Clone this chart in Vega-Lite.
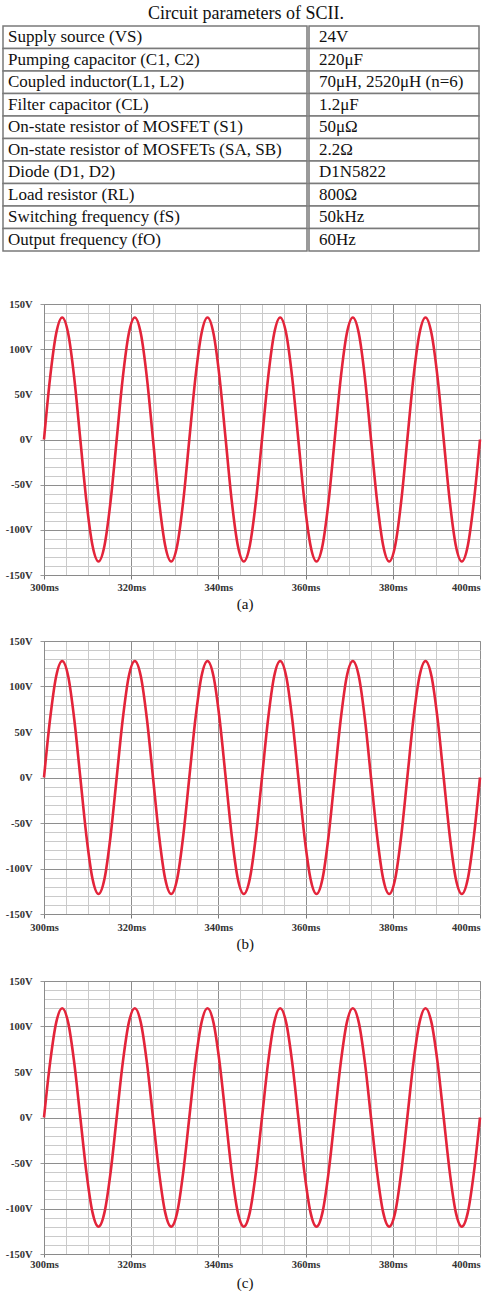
{
  "$schema": "https://vega.github.io/schema/vega-lite/v6.json",
  "padding": {"left": 2, "top": 5, "right": 0, "bottom": 0},
  "background": "white",
  "config": {
    "view": {"stroke": null},
    "font": "Liberation Serif",
    "axis": {"labelFont": "Liberation Serif", "labelFontWeight": "bold", "labelFontSize": 10.5, "labelColor": "#333333", "domainColor": "#8a8a8a", "gridWidth": 1}
  },
  "datasets": {
    "tbl": [
      {"r": 1, "p": "Supply source (VS)", "v": "24V"},
      {"r": 2, "p": "Pumping capacitor (C1, C2)", "v": "220μF"},
      {"r": 3, "p": "Coupled inductor(L1, L2)", "v": "70μH, 2520μH (n=6)"},
      {"r": 4, "p": "Filter capacitor (CL)", "v": "1.2μF"},
      {"r": 5, "p": "On-state resistor of MOSFET (S1)", "v": "50μΩ"},
      {"r": 6, "p": "On-state resistor of MOSFETs (SA, SB)", "v": "2.2Ω"},
      {"r": 7, "p": "Diode (D1, D2)", "v": "D1N5822"},
      {"r": 8, "p": "Load resistor (RL)", "v": "800Ω"},
      {"r": 9, "p": "Switching frequency (fS)", "v": "50kHz"},
      {"r": 10, "p": "Output frequency (fO)", "v": "60Hz"}
    ],
    "wave": [
      {"t": 300, "a": 0, "b": 0, "c": 0},
      {"t": 301.39, "a": 68, "b": 64, "c": 60},
      {"t": 302.78, "a": 117, "b": 111, "c": 104},
      {"t": 304.17, "a": 135, "b": 128, "c": 120},
      {"t": 305.56, "a": 117, "b": 111, "c": 104},
      {"t": 306.94, "a": 68, "b": 64, "c": 60},
      {"t": 308.33, "a": 0, "b": 0, "c": 0},
      {"t": 309.72, "a": -68, "b": -64, "c": -60},
      {"t": 311.11, "a": -117, "b": -111, "c": -104},
      {"t": 312.5, "a": -135, "b": -128, "c": -120},
      {"t": 313.89, "a": -117, "b": -111, "c": -104},
      {"t": 315.28, "a": -68, "b": -64, "c": -60},
      {"t": 316.67, "a": 0, "b": 0, "c": 0},
      {"t": 318.06, "a": 68, "b": 64, "c": 60},
      {"t": 319.44, "a": 117, "b": 111, "c": 104},
      {"t": 320.83, "a": 135, "b": 128, "c": 120},
      {"t": 322.22, "a": 117, "b": 111, "c": 104},
      {"t": 323.61, "a": 68, "b": 64, "c": 60},
      {"t": 325, "a": 0, "b": 0, "c": 0},
      {"t": 326.39, "a": -68, "b": -64, "c": -60},
      {"t": 327.78, "a": -117, "b": -111, "c": -104},
      {"t": 329.17, "a": -135, "b": -128, "c": -120},
      {"t": 330.56, "a": -117, "b": -111, "c": -104},
      {"t": 331.94, "a": -68, "b": -64, "c": -60},
      {"t": 333.33, "a": 0, "b": 0, "c": 0},
      {"t": 334.72, "a": 68, "b": 64, "c": 60},
      {"t": 336.11, "a": 117, "b": 111, "c": 104},
      {"t": 337.5, "a": 135, "b": 128, "c": 120},
      {"t": 338.89, "a": 117, "b": 111, "c": 104},
      {"t": 340.28, "a": 68, "b": 64, "c": 60},
      {"t": 341.67, "a": 0, "b": 0, "c": 0},
      {"t": 343.06, "a": -68, "b": -64, "c": -60},
      {"t": 344.44, "a": -117, "b": -111, "c": -104},
      {"t": 345.83, "a": -135, "b": -128, "c": -120},
      {"t": 347.22, "a": -117, "b": -111, "c": -104},
      {"t": 348.61, "a": -68, "b": -64, "c": -60},
      {"t": 350, "a": 0, "b": 0, "c": 0},
      {"t": 351.39, "a": 68, "b": 64, "c": 60},
      {"t": 352.78, "a": 117, "b": 111, "c": 104},
      {"t": 354.17, "a": 135, "b": 128, "c": 120},
      {"t": 355.56, "a": 117, "b": 111, "c": 104},
      {"t": 356.94, "a": 68, "b": 64, "c": 60},
      {"t": 358.33, "a": 0, "b": 0, "c": 0},
      {"t": 359.72, "a": -68, "b": -64, "c": -60},
      {"t": 361.11, "a": -117, "b": -111, "c": -104},
      {"t": 362.5, "a": -135, "b": -128, "c": -120},
      {"t": 363.89, "a": -117, "b": -111, "c": -104},
      {"t": 365.28, "a": -68, "b": -64, "c": -60},
      {"t": 366.67, "a": 0, "b": 0, "c": 0},
      {"t": 368.06, "a": 68, "b": 64, "c": 60},
      {"t": 369.44, "a": 117, "b": 111, "c": 104},
      {"t": 370.83, "a": 135, "b": 128, "c": 120},
      {"t": 372.22, "a": 117, "b": 111, "c": 104},
      {"t": 373.61, "a": 68, "b": 64, "c": 60},
      {"t": 375, "a": 0, "b": 0, "c": 0},
      {"t": 376.39, "a": -68, "b": -64, "c": -60},
      {"t": 377.78, "a": -117, "b": -111, "c": -104},
      {"t": 379.17, "a": -135, "b": -128, "c": -120},
      {"t": 380.56, "a": -117, "b": -111, "c": -104},
      {"t": 381.94, "a": -68, "b": -64, "c": -60},
      {"t": 383.33, "a": 0, "b": 0, "c": 0},
      {"t": 384.72, "a": 68, "b": 64, "c": 60},
      {"t": 386.11, "a": 117, "b": 111, "c": 104},
      {"t": 387.5, "a": 135, "b": 128, "c": 120},
      {"t": 388.89, "a": 117, "b": 111, "c": 104},
      {"t": 390.28, "a": 68, "b": 64, "c": 60},
      {"t": 391.67, "a": 0, "b": 0, "c": 0},
      {"t": 393.06, "a": -68, "b": -64, "c": -60},
      {"t": 394.44, "a": -117, "b": -111, "c": -104},
      {"t": 395.83, "a": -135, "b": -128, "c": -120},
      {"t": 397.22, "a": -117, "b": -111, "c": -104},
      {"t": 398.61, "a": -68, "b": -64, "c": -60},
      {"t": 400, "a": 0, "b": 0, "c": 0}
    ]
  },
  "spacing": 23,
  "vconcat": [
    {
      "title": {"text": "Circuit parameters of SCII.", "fontSize": 18, "fontWeight": "normal", "anchor": "middle", "color": "#111111", "offset": 2, "dx": 5, "font": "Liberation Serif"},
      "spacing": 0,
      "hconcat": [
        {
          "width": 304, "height": 249,
          "data": {"name": "tbl"},
          "layer": [
            {"mark": {"type": "rect", "fill": "white", "stroke": "#7a7a7a", "strokeWidth": 1.5},
             "encoding": {"y": {"field": "r", "type": "ordinal", "axis": null, "scale": {"paddingInner": 0, "paddingOuter": 0.5333, "align": 0}}}},
            {"mark": {"type": "text", "align": "left", "baseline": "middle", "dx": 5, "fontSize": 17, "color": "#111111", "font": "Liberation Serif"},
             "encoding": {"y": {"field": "r", "type": "ordinal", "axis": null, "scale": {"paddingInner": 0, "paddingOuter": 0.5333, "align": 0}}, "x": {"value": 0}, "text": {"field": "p"}}}
          ]
        },
        {
          "width": 170, "height": 249,
          "data": {"name": "tbl"},
          "layer": [
            {"mark": {"type": "rect", "fill": "white", "stroke": "#7a7a7a", "strokeWidth": 1.5},
             "encoding": {"y": {"field": "r", "type": "ordinal", "axis": null, "scale": {"paddingInner": 0, "paddingOuter": 0.5333, "align": 0}}}},
            {"mark": {"type": "text", "align": "left", "baseline": "middle", "dx": 10, "fontSize": 17, "color": "#111111", "font": "Liberation Serif"},
             "encoding": {"y": {"field": "r", "type": "ordinal", "axis": null, "scale": {"paddingInner": 0, "paddingOuter": 0.5333, "align": 0}}, "x": {"value": 0}, "text": {"field": "v"}}}
          ]
        }
      ]
    },
    {
      "spacing": 0,
      "hconcat": [
        {"width": 1, "height": 1, "data": {"values": []}, "mark": "text", "encoding": {}},
        {
          "width": 436, "height": 271,
          "data": {"name": "wave"},
          "view": {"stroke": "#a0a0a0"},
          "title": {"text": "(a)", "orient": "bottom", "anchor": "middle", "frame": "bounds", "fontSize": 15, "fontWeight": "normal", "offset": 4, "color": "#111111", "font": "Liberation Serif"},
          "mark": {"type": "line", "color": "#e3243a", "strokeWidth": 2.6, "interpolate": "monotone"},
          "encoding": {
            "x": {"field": "t", "type": "quantitative", "scale": {"domain": [300, 400], "nice": false, "zero": false},
              "axis": {"title": null, "values": [300,305,310,315,320,325,330,335,340,345,350,355,360,365,370,375,380,385,390,395,400], "labelExpr": "datum.value % 20 === 0 ? datum.value + 'ms' : ''", "labelOverlap": false, "labelFlush": false, "labelAlign": {"condition": {"test": "datum.value >= 400", "value": "right"}, "value": "center"}, "grid": true, "gridColor": {"condition": {"test": "datum.value % 20 === 0", "value": "#8e8e8e"}, "value": "#cacaca"}, "tickColor": {"condition": {"test": "datum.value % 20 === 0", "value": "#777777"}, "value": "transparent"}, "tickSize": 4, "labelPadding": 3}},
            "y": {"field": "a", "type": "quantitative", "scale": {"domain": [-150, 150], "nice": false},
              "axis": {"title": null, "values": [-150,-140,-130,-120,-110,-100,-90,-80,-70,-60,-50,-40,-30,-20,-10,0,10,20,30,40,50,60,70,80,90,100,110,120,130,140,150], "labelExpr": "datum.value % 50 === 0 ? datum.value + 'V' : ''", "labelOverlap": false, "grid": true, "gridColor": {"condition": {"test": "datum.value % 50 === 0", "value": "#8e8e8e"}, "value": "#cacaca"}, "tickColor": {"condition": {"test": "datum.value % 50 === 0", "value": "#999999"}, "value": "transparent"}, "tickSize": 4, "labelPadding": 8}}
          }
        }
      ]
    },
    {
      "spacing": 0,
      "hconcat": [
        {"width": 1, "height": 1, "data": {"values": []}, "mark": "text", "encoding": {}},
        {
          "width": 436, "height": 273,
          "data": {"name": "wave"},
          "view": {"stroke": "#a0a0a0"},
          "title": {"text": "(b)", "orient": "bottom", "anchor": "middle", "frame": "bounds", "fontSize": 15, "fontWeight": "normal", "offset": 4, "color": "#111111", "font": "Liberation Serif"},
          "mark": {"type": "line", "color": "#e3243a", "strokeWidth": 2.6, "interpolate": "monotone"},
          "encoding": {
            "x": {"field": "t", "type": "quantitative", "scale": {"domain": [300, 400], "nice": false, "zero": false},
              "axis": {"title": null, "values": [300,305,310,315,320,325,330,335,340,345,350,355,360,365,370,375,380,385,390,395,400], "labelExpr": "datum.value % 20 === 0 ? datum.value + 'ms' : ''", "labelOverlap": false, "labelFlush": false, "labelAlign": {"condition": {"test": "datum.value >= 400", "value": "right"}, "value": "center"}, "grid": true, "gridColor": {"condition": {"test": "datum.value % 20 === 0", "value": "#8e8e8e"}, "value": "#cacaca"}, "tickColor": {"condition": {"test": "datum.value % 20 === 0", "value": "#777777"}, "value": "transparent"}, "tickSize": 4, "labelPadding": 4}},
            "y": {"field": "b", "type": "quantitative", "scale": {"domain": [-150, 150], "nice": false},
              "axis": {"title": null, "values": [-150,-140,-130,-120,-110,-100,-90,-80,-70,-60,-50,-40,-30,-20,-10,0,10,20,30,40,50,60,70,80,90,100,110,120,130,140,150], "labelExpr": "datum.value % 50 === 0 ? datum.value + 'V' : ''", "labelOverlap": false, "grid": true, "gridColor": {"condition": {"test": "datum.value % 50 === 0", "value": "#8e8e8e"}, "value": "#cacaca"}, "tickColor": {"condition": {"test": "datum.value % 50 === 0", "value": "#999999"}, "value": "transparent"}, "tickSize": 4, "labelPadding": 8}}
          }
        }
      ]
    },
    {
      "spacing": 0,
      "hconcat": [
        {"width": 1, "height": 1, "data": {"values": []}, "mark": "text", "encoding": {}},
        {
          "width": 436, "height": 273,
          "data": {"name": "wave"},
          "view": {"stroke": "#a0a0a0"},
          "title": {"text": "(c)", "orient": "bottom", "anchor": "middle", "frame": "bounds", "fontSize": 15, "fontWeight": "normal", "offset": 6, "color": "#111111", "font": "Liberation Serif"},
          "mark": {"type": "line", "color": "#e3243a", "strokeWidth": 2.6, "interpolate": "monotone"},
          "encoding": {
            "x": {"field": "t", "type": "quantitative", "scale": {"domain": [300, 400], "nice": false, "zero": false},
              "axis": {"title": null, "values": [300,305,310,315,320,325,330,335,340,345,350,355,360,365,370,375,380,385,390,395,400], "labelExpr": "datum.value % 20 === 0 ? datum.value + 'ms' : ''", "labelOverlap": false, "labelFlush": false, "labelAlign": {"condition": {"test": "datum.value >= 400", "value": "right"}, "value": "center"}, "grid": true, "gridColor": {"condition": {"test": "datum.value % 20 === 0", "value": "#8e8e8e"}, "value": "#cacaca"}, "tickColor": {"condition": {"test": "datum.value % 20 === 0", "value": "#777777"}, "value": "transparent"}, "tickSize": 3, "labelPadding": 2}},
            "y": {"field": "c", "type": "quantitative", "scale": {"domain": [-150, 150], "nice": false},
              "axis": {"title": null, "values": [-150,-140,-130,-120,-110,-100,-90,-80,-70,-60,-50,-40,-30,-20,-10,0,10,20,30,40,50,60,70,80,90,100,110,120,130,140,150], "labelExpr": "datum.value % 50 === 0 ? datum.value + 'V' : ''", "labelOverlap": false, "grid": true, "gridColor": {"condition": {"test": "datum.value % 50 === 0", "value": "#8e8e8e"}, "value": "#cacaca"}, "tickColor": {"condition": {"test": "datum.value % 50 === 0", "value": "#999999"}, "value": "transparent"}, "tickSize": 4, "labelPadding": 8}}
          }
        }
      ]
    }
  ]
}
